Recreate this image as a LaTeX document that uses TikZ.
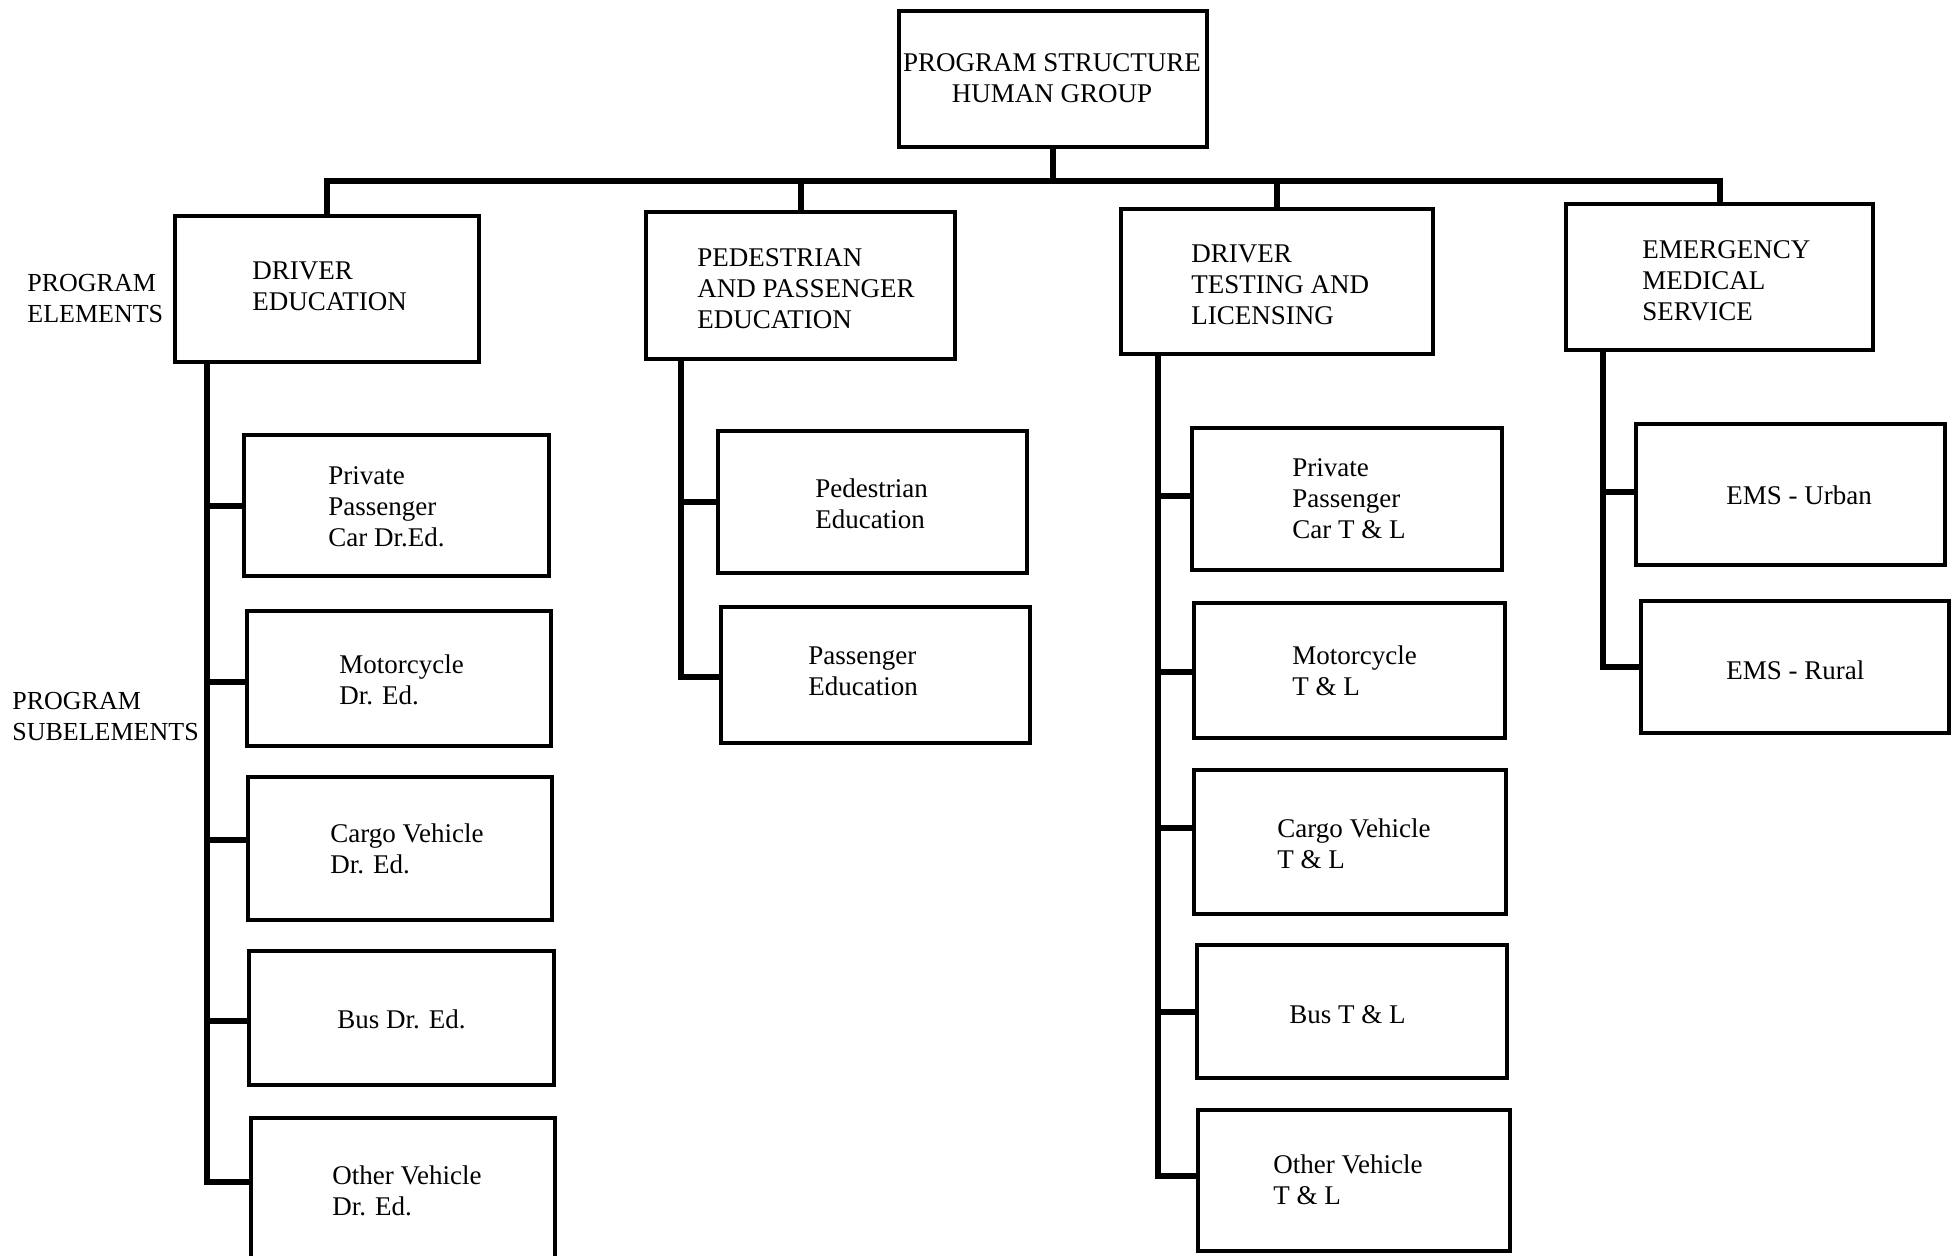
\documentclass[tikz,border=0pt]{standalone}
\usepackage{fontspec}
\setmainfont{Liberation Serif}
\usetikzlibrary{fit,calc}
\begin{document}
\begin{tikzpicture}[x=0.5pt,y=-0.5pt,
  box/.style={draw, line width=2pt, inner sep=0pt},
  txt/.style={font=\fontsize{13.5}{15.5}\selectfont, align=left, inner sep=0pt, anchor=west},
  ltxt/.style={font=\fontsize{13}{15.5}\selectfont, align=left, inner sep=0pt, anchor=west},
  ctxt/.style={font=\fontsize{13.5}{15.5}\selectfont, align=center, inner sep=0pt},
  conn/.style={line width=3pt}
]
\fill[white] (0,0) rectangle (1955,1255);
\useasboundingbox (0,0) rectangle (1955,1255);

% boxes
\node[box, fit={(899,11) (1207,147)}] (top) {};
\node[box, fit={(175,216) (479,362)}] (de) {};
\node[box, fit={(646,212) (955,359)}] (pape) {};
\node[box, fit={(1121,209) (1433,354)}] (dtl) {};
\node[box, fit={(1566,204) (1873,350)}] (ems) {};
\node[box, fit={(244,435) (549,576)}] (de1) {};
\node[box, fit={(247,611) (551,746)}] (de2) {};
\node[box, fit={(248,777) (552,920)}] (de3) {};
\node[box, fit={(249,951) (554,1085)}] (de4) {};
\node[box, fit={(251,1118) (555,1265)}] (de5) {};
\node[box, fit={(718,431) (1027,573)}] (pe1) {};
\node[box, fit={(721,607) (1030,743)}] (pe2) {};
\node[box, fit={(1192,428) (1502,570)}] (dt1) {};
\node[box, fit={(1194,603) (1505,738)}] (dt2) {};
\node[box, fit={(1194,770) (1506,914)}] (dt3) {};
\node[box, fit={(1197,945) (1507,1078)}] (dt4) {};
\node[box, fit={(1198,1110) (1510,1251)}] (dt5) {};
\node[box, fit={(1636,424) (1945,565)}] (em1) {};
\node[box, fit={(1641,601) (1949,733)}] (em2) {};

% texts
\node[ctxt] (top-t) at (1052,78) {PROGRAM STRUCTURE\\HUMAN GROUP};
\node[ltxt] (lab1) at (27,299) {PROGRAM\\ELEMENTS};
\node[ltxt] (lab2) at (12,717) {PROGRAM\\SUBELEMENTS};
\node[txt] (de-t) at (252,286) {DRIVER\\EDUCATION};
\node[txt] (pape-t) at (697,289) {PEDESTRIAN\\AND PASSENGER\\EDUCATION};
\node[txt] (dtl-t) at (1191,285) {DRIVER\\TESTING AND\\LICENSING};
\node[txt] (ems-t) at (1642,281) {EMERGENCY\\MEDICAL\\SERVICE};
\node[txt] (de1-t) at (328,507) {Private\\Passenger\\Car Dr.Ed.};
\node[txt] (de2-t) at (339,680) {Motorcycle\\Dr. Ed.};
\node[txt] (de3-t) at (330,849) {Cargo Vehicle\\Dr. Ed.};
\node[txt] (de4-t) at (337,1019) {Bus Dr. Ed.};
\node[txt] (de5-t) at (332,1191) {Other Vehicle\\Dr. Ed.};
\node[txt] (pe1-t) at (815,504) {Pedestrian\\Education};
\node[txt] (pe2-t) at (808,671) {Passenger\\Education};
\node[txt] (dt1-t) at (1292,499) {Private\\Passenger\\Car T \& L};
\node[txt] (dt2-t) at (1292,671) {Motorcycle\\T \& L};
\node[txt] (dt3-t) at (1277,844) {Cargo Vehicle\\T \& L};
\node[txt] (dt4-t) at (1289,1015) {Bus T \& L};
\node[txt] (dt5-t) at (1273,1180) {Other Vehicle\\T \& L};
\node[txt] (em1-t) at (1726,495) {EMS - Urban};
\node[txt] (em2-t) at (1726,670) {EMS - Rural};

% bus
\coordinate (bus) at (0,181);
\draw[conn] (top.south) -- (top.south |- bus);
\draw[conn] (de.north) -- (de.north |- bus) -- (ems.north |- bus) -- (ems.north);
\draw[conn] (pape.north) -- (pape.north |- bus);
\draw[conn] (dtl.north) -- (dtl.north |- bus);

% trunks
\coordinate (deT) at ($(de.south west)+(34,0)$);
\coordinate (peT) at ($(pape.south west)+(37,0)$);
\coordinate (dtT) at ($(dtl.south west)+(39,0)$);
\coordinate (emT) at ($(ems.south west)+(39,0)$);

\path ([yshift=4.75pt]de5.west) coordinate (de5b);
\draw[conn] (deT) |- (de5b);
\foreach \n/\s in {de1/0,de2/-1.75,de3/4.5,de4/-1.5}{
  \path ([yshift=\s pt]\n.west) coordinate (b);
  \draw[conn] (deT |- b) -- (b);
}
\path ([yshift=-1pt]pe2.west) coordinate (pe2b);
\draw[conn] (peT) |- (pe2b);
\draw[conn] (peT |- pe1.west) -- (pe1.west);

\path ([yshift=2.25pt]dt5.west) coordinate (dt5b);
\draw[conn] (dtT) |- (dt5b);
\foreach \n/\s in {dt1/1.5,dt2/-0.75,dt3/7,dt4/0}{
  \path ([yshift=\s pt]\n.west) coordinate (b);
  \draw[conn] (dtT |- b) -- (b);
}
\draw[conn] (emT) |- (em2.west);
\path ([yshift=1.25pt]em1.west) coordinate (em1b);
\draw[conn] (emT |- em1b) -- (em1b);
\end{tikzpicture}
\end{document}
